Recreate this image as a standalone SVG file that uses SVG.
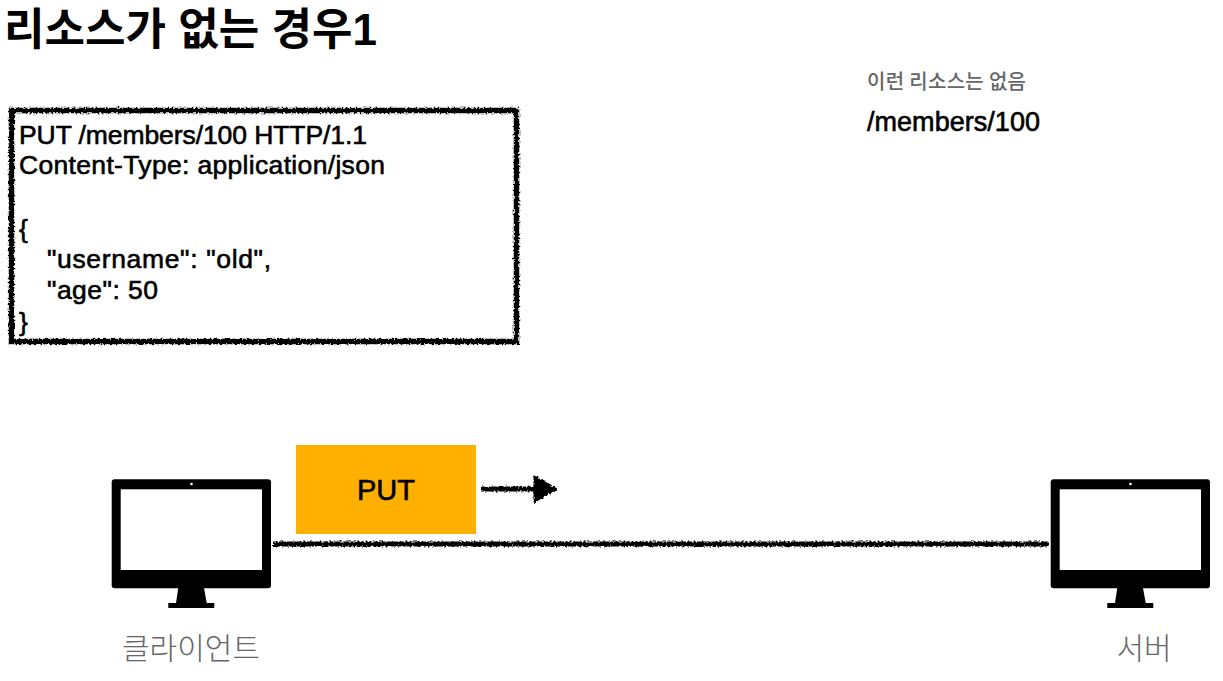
<svg xmlns="http://www.w3.org/2000/svg" width="1223" height="681" viewBox="0 0 1223 681">
<style>
.t{font-family:"Liberation Sans","Noto Sans CJK KR",sans-serif;fill:#000}
.k{font-family:"Noto Sans CJK KR","Liberation Sans",sans-serif}
.code{font-size:26.500px;stroke:#000;stroke-width:.6px}
.lab{font-size:30px;fill:#666;font-weight:300}
</style>
<defs>
<filter id="r" x="0" y="95" width="530" height="260" filterUnits="userSpaceOnUse">
<feTurbulence type="fractalNoise" baseFrequency="0.5" numOctaves="2" seed="4"/>
<feDisplacementMap in="SourceGraphic" scale="5" xChannelSelector="R" yChannelSelector="G"/>
</filter>
<filter id="r2" x="260" y="530" width="800" height="30" filterUnits="userSpaceOnUse">
<feTurbulence type="fractalNoise" baseFrequency="0.5" numOctaves="2" seed="4"/>
<feDisplacementMap in="SourceGraphic" scale="5" xChannelSelector="R" yChannelSelector="G"/>
</filter>
<filter id="r3" x="470" y="465" width="100" height="50" filterUnits="userSpaceOnUse">
<feTurbulence type="fractalNoise" baseFrequency="0.5" numOctaves="2" seed="7"/>
<feDisplacementMap in="SourceGraphic" scale="4.500" xChannelSelector="R" yChannelSelector="G"/>
</filter>
<g id="monitor">
<rect x="111.700" y="479.300" width="159.300" height="109" rx="3" fill="#000"/>
<rect x="120.700" y="489.300" width="141.300" height="80.700" fill="#fff"/>
<circle cx="191.500" cy="484" r="1.300" fill="#fff"/>
<path d="M178.300 588H204L206.700 603H214.300V608H168.300V603H176Z" fill="#000"/>
</g>
</defs>
<g id="title"><text class="t" x="4" y="45" font-size="44" font-weight="700" textLength="373">리소스가 없는 경우1</text></g>
<g id="resource-note">
<text class="k" x="867" y="89" font-size="20" font-weight="500" fill="#666" textLength="159">이런 리소스는 없음</text>
<text class="t" x="867" y="131" font-size="27" stroke="#000" stroke-width=".6" textLength="173">/members/100</text>
</g>
<g id="request-box">
<rect x="11.500" y="110.500" width="505" height="231" fill="none" stroke="#000" stroke-width="5.500" filter="url(#r)"/>
<text class="t code" x="19" y="144" textLength="348">PUT /members/100 HTTP/1.1</text>
<text class="t code" x="19" y="174" textLength="366">Content-Type: application/json</text>
<text class="t code" x="19" y="238">{</text>
<text class="t code" x="47" y="268" textLength="224">"username": "old",</text>
<text class="t code" x="47" y="299" textLength="111">"age": 50</text>
<text class="t code" x="19" y="331">}</text>
</g>
<g id="connectors">
<path d="M273 544H1049" fill="none" stroke="#000" stroke-width="5" filter="url(#r2)"/>
<g filter="url(#r3)">
<path d="M481 489H536" fill="none" stroke="#000" stroke-width="5"/>
<path d="M534 475.500L557 489L534 502.500Z" fill="#000" stroke="#000" stroke-width="1"/>
</g>
</g>
<g id="client">
<use href="#monitor"/>
<text class="k lab" x="191" y="659" text-anchor="middle" textLength="138">클라이언트</text>
</g>
<g id="server">
<use href="#monitor" x="939"/>
<text class="k lab" x="1144" y="659" text-anchor="middle" textLength="55">서버</text>
</g>
<g id="put">
<rect x="296" y="445" width="180" height="89" fill="#ffaf00"/>
<text class="t" x="386" y="500" font-size="29" text-anchor="middle" stroke="#000" stroke-width=".6">PUT</text>
</g>
</svg>
